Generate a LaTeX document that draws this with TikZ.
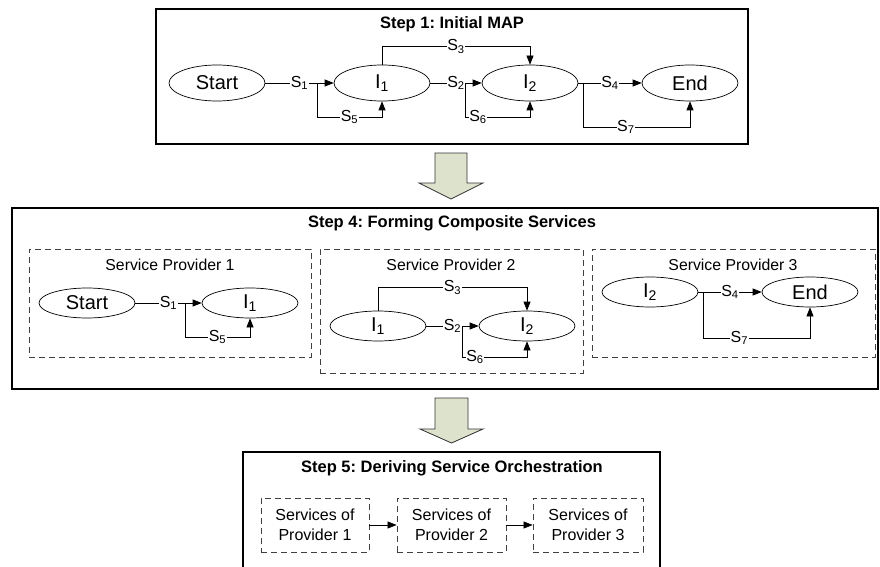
\documentclass[tikz,border=0pt]{standalone}
\usepackage{fontspec}
\setmainfont{Liberation Sans}
\frenchspacing
\usetikzlibrary{shapes.geometric,arrows.meta}

\tikzset{
    stepbox/.style={draw, line width=1.6pt, inner sep=0pt},
    provbox/.style={draw=black!75, dash pattern=on 6pt off 4pt, line width=0.8pt, inner sep=0pt},
    steptitle/.style={font=\fontsize{16.5}{19}\selectfont\bfseries, inner sep=0pt},
    provtitle/.style={font=\fontsize{15.8}{19}\selectfont, inner sep=0pt},
    state/.style={draw, ellipse, line width=0.7pt, minimum width=96pt, minimum height=36pt,
                  inner sep=0pt, font=\fontsize{20}{22}\selectfont},
    smallstate/.style={state, minimum height=30pt},
    conn/.style={-{Triangle[length=9pt,width=7pt]}, line width=0.7pt},
    lbl/.style={fill=white, inner sep=0.6pt, font=\fontsize{16}{18}\selectfont},
    bigarrow/.style={fill={rgb,255:red,221;green,226;blue,205}, draw=black!80, line width=0.8pt}
}

\begin{document}
\begin{tikzpicture}[x=1pt,y=-1pt]
    \useasboundingbox (0,0) rectangle (880,567);

    \node[stepbox, minimum width=592pt, minimum height=135pt] (step1) at (452,76.5) {};
    \node[steptitle] (title1) at (452,24) {Step 1: Initial MAP};
    \node[state] (start) at (217,83) {Start};
    \node[state] (i1) at (382,83) {I\textsubscript{1}};
    \node[state] (i2) at (530,83) {I\textsubscript{2}};
    \node[state] (end) at (690,83) {End};
    \coordinate (s5from) at (317,83);
    \coordinate (s6from) at (465,83);
    \coordinate (s7from) at (583,83);
    \draw[conn] (start) -- node[lbl] {S\textsubscript{1}} (i1);
    \draw[conn] (s5from) -- ++(0,34) -| node[lbl,pos=0.25] {S\textsubscript{5}} (i1.south);
    \draw[conn] (i1.north) -- ++(0,-18) -| node[lbl,pos=0.25] {S\textsubscript{3}} (i2.north);
    \draw[conn] (i1) -- node[lbl] {S\textsubscript{2}} (i2);
    \draw[conn] (s6from) -- ++(0,34) -| node[lbl,pos=0.1] {S\textsubscript{6}} (i2.south);
    \draw[conn] (i2) -- node[lbl] {S\textsubscript{4}} (end);
    \draw[conn] (s7from) -- ++(0,44) -| node[lbl,pos=0.2] {S\textsubscript{7}} (end.south);

    \begin{scope}[shift={(451,153)}]
        \draw[bigarrow] (-16,0) -- (16,0) -- (16,30) -- (32,30) -- (0,46)
                        -- (-32,30) -- (-16,30) -- cycle;
    \end{scope}

    \node[stepbox, minimum width=866pt, minimum height=181pt] (step4) at (445,298.5) {};
    \node[steptitle] (title4) at (452,223) {Step 4: Forming Composite Services};

    \node[provbox, minimum width=282pt, minimum height=108pt] (prov1) at (170,303) {};
    \node[provtitle] (ptitle1) at (170,265) {Service Provider 1};
    \node[smallstate] (start2) at (87,303) {Start};
    \node[smallstate] (i1b) at (250,303) {I\textsubscript{1}};
    \coordinate (s5from2) at (185,303);
    \draw[conn] (start2) -- node[lbl] {S\textsubscript{1}} (i1b);
    \draw[conn] (s5from2) -- ++(0,34) -| node[lbl,pos=0.25] {S\textsubscript{5}} (i1b.south);

    \node[provbox, minimum width=263pt, minimum height=124pt] (prov2) at (451.5,311) {};
    \node[provtitle] (ptitle2) at (451,265) {Service Provider 2};
    \node[smallstate] (i1c) at (378,326) {I\textsubscript{1}};
    \node[smallstate] (i2c) at (527,326) {I\textsubscript{2}};
    \coordinate (s6from2) at (462,326);
    \draw[conn] (i1c.north) -- ++(0,-23) -| node[lbl,pos=0.25] {S\textsubscript{3}} (i2c.north);
    \draw[conn] (i1c) -- node[lbl] {S\textsubscript{2}} (i2c);
    \draw[conn] (s6from2) -- ++(0,31) -| node[lbl,pos=0.1] {S\textsubscript{6}} (i2c.south);

    \node[provbox, minimum width=283pt, minimum height=108pt] (prov3) at (733.5,303) {};
    \node[provtitle] (ptitle3) at (733,265) {Service Provider 3};
    \node[smallstate] (i2d) at (650,292) {I\textsubscript{2}};
    \node[smallstate] (end2) at (810,292) {End};
    \coordinate (s7from2) at (703,292);
    \draw[conn] (i2d) -- node[lbl] {S\textsubscript{4}} (end2);
    \draw[conn] (s7from2) -- ++(0,46) -| node[lbl,pos=0.17] {S\textsubscript{7}} (end2.south);

    \begin{scope}[shift={(451.5,398)}]
        \draw[bigarrow] (-16.5,0) -- (16.5,0) -- (16.5,31) -- (31.5,31) -- (0,45)
                        -- (-31.5,31) -- (-16.5,31) -- cycle;
    \end{scope}

    \node[stepbox, minimum width=417pt, minimum height=160pt] (step5) at (451.5,532) {};
    \node[steptitle] (title5) at (452,468) {Step 5: Deriving Service Orchestration};
    \node[provbox, minimum width=108pt, minimum height=54pt, align=center,
          font=\fontsize{16}{20}\selectfont] (serv1) at (315,525) {Services of\\Provider 1};
    \node[provbox, minimum width=109pt, minimum height=54pt, align=center,
          font=\fontsize{16}{20}\selectfont] (serv2) at (451.5,525) {Services of\\Provider 2};
    \node[provbox, minimum width=110pt, minimum height=54pt, align=center,
          font=\fontsize{16}{20}\selectfont] (serv3) at (588,525) {Services of\\Provider 3};
    \draw[conn] (serv1) -- (serv2);
    \draw[conn] (serv2) -- (serv3);
\end{tikzpicture}
\end{document}
